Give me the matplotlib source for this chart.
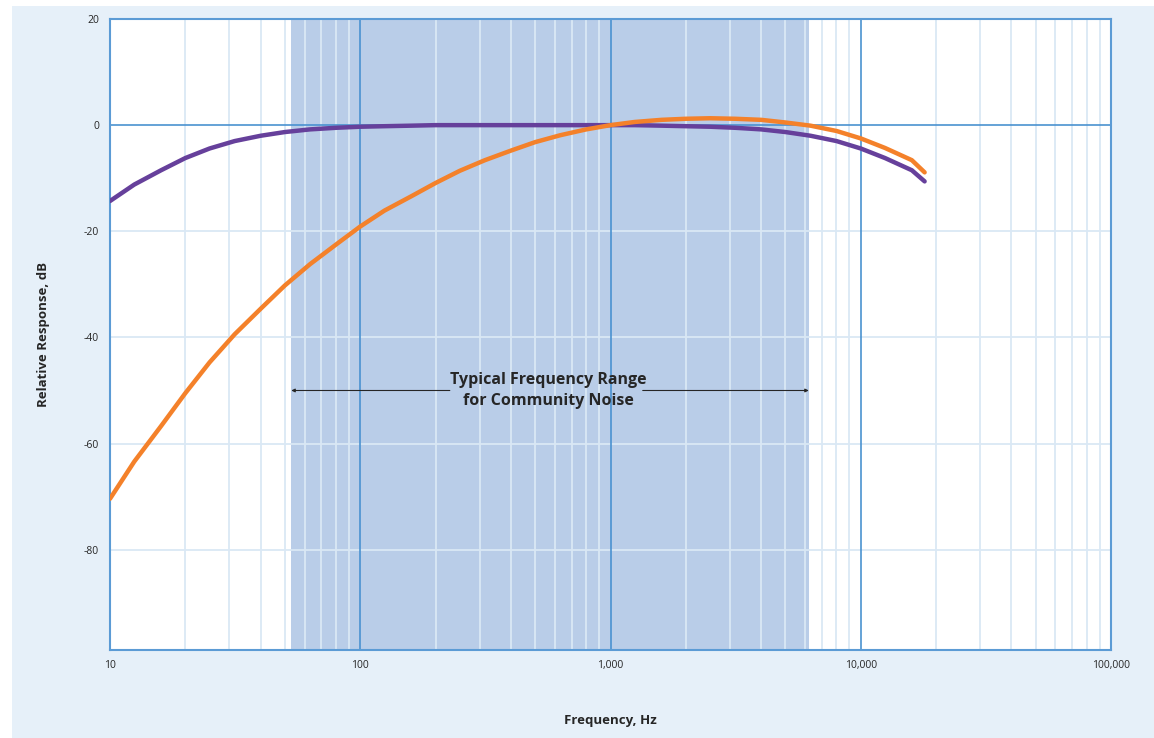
import matplotlib
matplotlib.use("Agg")
import matplotlib.pyplot as plt
from matplotlib.patches import Rectangle
from matplotlib.ticker import FixedLocator, NullFormatter

# ---- data ----
freq_hz = [10, 12.5, 16, 20, 25, 31.5, 40, 50, 63, 80, 100, 125, 160, 200, 250,
           315, 400, 500, 630, 800, 1000, 1250, 1600, 2000, 2500, 3150, 4000,
           5000, 6300, 8000, 10000, 12500, 16000, 18000]
a_weight_db = [-70.4, -63.4, -56.7, -50.5, -44.7, -39.4, -34.6, -30.2, -26.2, -22.5,
               -19.1, -16.1, -13.4, -10.9, -8.6, -6.6, -4.8, -3.2, -1.9, -0.8,
               0.0, 0.6, 1.0, 1.2, 1.3, 1.2, 1.0, 0.5, -0.1, -1.1,
               -2.5, -4.3, -6.6, -8.9]
c_weight_db = [-14.3, -11.2, -8.5, -6.2, -4.4, -3.0, -2.0, -1.3, -0.8, -0.5,
               -0.3, -0.2, -0.1, 0.0, 0.0, 0.0, 0.0, 0.0, 0.0, 0.0,
               0.0, 0.0, -0.1, -0.2, -0.3, -0.5, -0.8, -1.3, -2.0, -3.0,
               -4.4, -6.2, -8.5, -10.6]
range_lo_hz = 53
range_hi_hz = 6200
range_label = "Typical Frequency Range\nfor Community Noise"
range_label_y = -50
x_ticks = [10, 100, 1000, 10000, 100000]
x_tick_labels = ["10", "100", "1,000", "10,000", "100,000"]
y_ticks = [20, 0, -20, -40, -60, -80]
y_tick_labels = ["20", "0", "-20", "-40", "-60", "-80"]

FONT = ["Open Sans", "DejaVu Sans"]
plt.rcParams["font.family"] = FONT

BG = "#E6F0F9"
SHADE = "#B9CDE8"
MAJOR = "#4A92D0"
MINOR = "#DAE8F5"
ORANGE = "#F4812A"
PURPLE = "#66409B"
TXT = "#262626"

fig = plt.figure(figsize=(11.54, 7.38), dpi=100)
fig.patch.set_facecolor("white")
fig.patches.append(Rectangle((12 / 1154, 0), 1 - 12 / 1154, 1 - 6 / 738,
                             transform=fig.transFigure, facecolor=BG,
                             edgecolor="none", zorder=-10))

ax = fig.add_axes([110 / 1154, 1 - 650 / 738, (1111 - 110) / 1154, (650 - 19) / 738])
ax.set_facecolor("white")
ax.set_xscale("log")
ax.set_xlim(10, 100000)
ax.set_ylim(-98.9, 20)

# shaded typical range
ax.axvspan(range_lo_hz, range_hi_hz, color=SHADE, lw=0, zorder=0.5)

# minor grid
minor_x = [m * 10 ** d for d in range(1, 5) for m in range(2, 10)]
for xv in minor_x:
    ax.axvline(xv, color=MINOR, lw=1.3, zorder=1)
for yv in [-20, -40, -60, -80]:
    ax.axhline(yv, color=MINOR, lw=1.3, zorder=1)
# major grid
for xv in [100, 1000, 10000]:
    ax.axvline(xv, color=MAJOR, lw=1.2, zorder=1.5)
ax.axhline(0, color=MAJOR, lw=1.2, zorder=1.5)

ax.plot(freq_hz, c_weight_db, color=PURPLE, lw=3.2, solid_capstyle="round",
        solid_joinstyle="round", zorder=3)
ax.plot(freq_hz, a_weight_db, color=ORANGE, lw=3.2, solid_capstyle="round",
        solid_joinstyle="round", zorder=3)

# arrow and label
ax.annotate("", xy=(range_lo_hz, range_label_y), xytext=(228, range_label_y),
            arrowprops=dict(arrowstyle="-|>", color=TXT, lw=0.8,
                            mutation_scale=5, shrinkA=0, shrinkB=0), zorder=4)
ax.annotate("", xy=(range_hi_hz, range_label_y), xytext=(1345, range_label_y),
            arrowprops=dict(arrowstyle="-|>", color=TXT, lw=0.8,
                            mutation_scale=5, shrinkA=0, shrinkB=0), zorder=4)
ax.text(565, range_label_y, range_label, ha="center", va="center",
        fontsize=11.5, fontweight="bold", color=TXT, linespacing=1.35, zorder=4)

for s in ax.spines.values():
    s.set_color("#5B9BD5")
    s.set_linewidth(1.5)

ax.xaxis.set_major_locator(FixedLocator(x_ticks))
ax.set_xticklabels(x_tick_labels)
ax.xaxis.set_minor_formatter(NullFormatter())
ax.set_yticks(y_ticks)
ax.set_yticklabels(y_tick_labels)
ax.tick_params(which="both", length=0, labelsize=7.5, colors=TXT)
ax.tick_params(axis="x", pad=7)
ax.tick_params(axis="y", pad=8)

ax.set_xlabel("Frequency, Hz", fontsize=9.5, fontweight="bold", color=TXT, labelpad=31)
ax.set_ylabel("Relative Response, dB", fontsize=9.5, fontweight="bold", color=TXT, labelpad=24)

fig.savefig("out.png", dpi=100, facecolor=fig.get_facecolor())
